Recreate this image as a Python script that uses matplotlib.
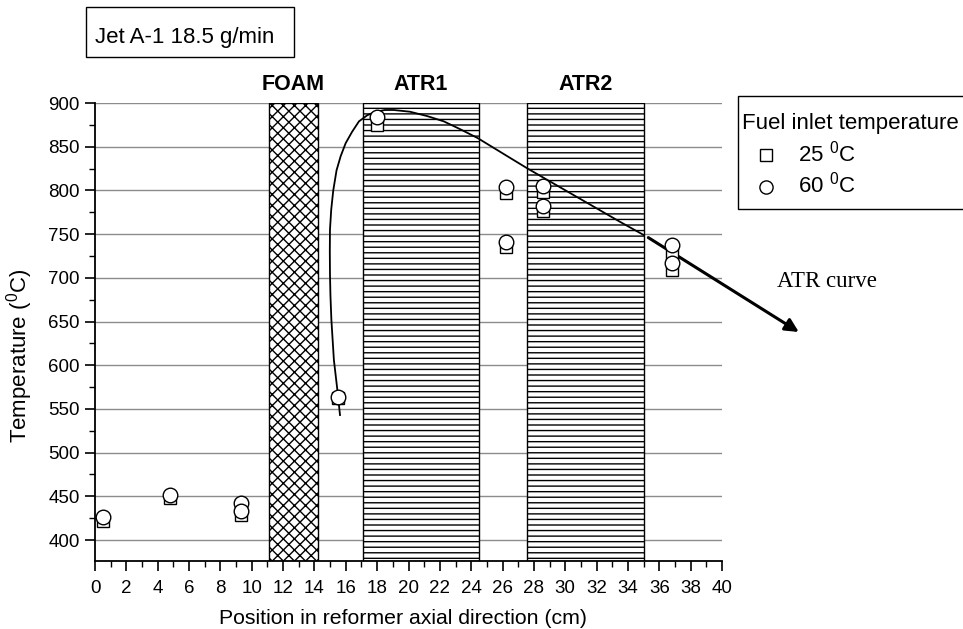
import matplotlib
matplotlib.use("Agg")
import matplotlib.pyplot as plt
from matplotlib.patches import Rectangle
from matplotlib.lines import Line2D
from matplotlib.ticker import MultipleLocator

plt.rcParams['font.family'] = ['Liberation Sans', 'DejaVu Sans']
plt.rcParams['mathtext.fontset'] = 'custom'
plt.rcParams['mathtext.rm'] = 'Liberation Sans'
plt.rcParams['mathtext.it'] = 'Liberation Sans'
plt.rcParams['hatch.linewidth'] = 1.0

# ---- data ----
positions = [0.5, 4.8, 9.3, 9.3, 15.5, 18.0, 26.2, 26.2, 28.6, 28.6, 36.8, 36.8]
temp_25C = [422, 448, 440, 429, 562, 875, 797, 735, 798, 777, 727, 709]
temp_60C = [426, 451, 442, 433, 564, 884, 804, 741, 805, 782, 738, 717]

curve_x = [15.63, 15.46, 15.24, 15.08, 15.02, 14.99, 14.98, 14.99, 15.07, 15.2,
           15.41, 15.67, 15.99, 16.4, 16.84, 17.37, 17.9, 18.5, 19.06, 20.1,
           21.2, 22.25, 23.3, 24.4, 26.5, 27.6, 30.5, 33.5, 35.0]
curve_y = [543, 572, 606, 652, 680, 705, 730, 755, 778, 800,
           823, 839, 854, 867, 879, 886, 890, 892, 892, 890,
           885, 879, 870, 860, 837, 825, 795, 764, 749]
arrow_start = (35.3, 746)
arrow_end = (44.9, 638)

zone_names = ['FOAM', 'ATR1', 'ATR2']
zone_start = [11.1, 17.1, 27.55]
zone_end = [14.2, 24.5, 35.0]
zone_hatch = ['xxx', '---', '---']

legend_title = 'Fuel inlet temperature'
legend_labels = ['25 $^{0}$C', '60 $^{0}$C']

xticks = list(range(0, 41, 2))
yticks = list(range(400, 901, 50))

W, H = 963, 629
fig = plt.figure(figsize=(W / 100, H / 100), dpi=100)
ax = fig.add_axes([95 / W, 1 - 561 / H, (722 - 95) / W, (561 - 103) / H])

ax.set_xlim(0, 40)
ax.set_ylim(376, 900)
ax.set_axisbelow(True)
ax.set_yticks(yticks)
ax.set_xticks(xticks)
ax.xaxis.set_minor_locator(MultipleLocator(1))
ax.yaxis.set_minor_locator(MultipleLocator(25))
ax.grid(True, axis='y', color='#8c8c8c', lw=1.0)

for sp in ['top', 'right']:
    ax.spines[sp].set_visible(False)
for sp in ['left', 'bottom']:
    ax.spines[sp].set_linewidth(1.3)

ax.tick_params(which='major', direction='out', length=7, width=1.2, labelsize=13.5, color='black')
ax.tick_params(which='minor', direction='out', length=4, width=1.0)
ax.tick_params(axis='x', which='major', pad=7)
ax.tick_params(axis='y', which='major', pad=4)

for name, s, e, h in zip(zone_names, zone_start, zone_end, zone_hatch):
    ax.axvspan(s, e, facecolor='white', edgecolor='black', hatch=h, lw=1.0, zorder=1)
    ax.annotate(name, xy=((s + e) / 2, 900), xytext=(0, 9.5), textcoords='offset points',
                ha='center', va='baseline', fontsize=15.5, fontweight='bold',
                annotation_clip=False)

ax.plot(curve_x, curve_y, color='black', lw=1.3, zorder=3, solid_joinstyle='round')
ax.annotate('', xy=arrow_end, xytext=arrow_start,
            arrowprops=dict(arrowstyle='-|>', lw=2.2, color='black', mutation_scale=20,
                            shrinkA=0, shrinkB=0),
            annotation_clip=False, zorder=4)
ax.text(43.5, 690, 'ATR curve', family=['Liberation Serif', 'DejaVu Serif'],
        fontsize=16.5, ha='left', va='baseline', clip_on=False)

ax.plot(positions, temp_25C, ls='none', marker='s', ms=9, mfc='white',
        mec='black', mew=1.0, zorder=5)
ax.plot(positions, temp_60C, ls='none', marker='o', ms=10.5, mfc='white',
        mec='black', mew=1.0, zorder=6)

ax.set_xlabel('Position in reformer axial direction (cm)', fontsize=15.3)
ax.set_ylabel('Temperature ($^{0}$C)', fontsize=16)
ax.xaxis.set_label_coords(0.492, -0.105)
ax.yaxis.set_label_coords(-0.096, 0.448)


def fx(px):
    return px / W


def fy(py):
    return 1 - py / H


# legend box (drawn in figure pixels, right edge runs off the image as in the reference)
fig.patches.append(Rectangle((fx(738), fy(209)), fx(990) - fx(738), (209 - 96) / H,
                             transform=fig.transFigure, facecolor='white',
                             edgecolor='black', lw=1.0, zorder=10))
fig.text(fx(742), fy(129), legend_title, fontsize=16, ha='left', va='baseline', zorder=11)
for i, (mk, ms, lab) in enumerate(zip(['s', 'o'], [8.5, 9.5], legend_labels)):
    yc = 155 + 31.5 * i
    fig.add_artist(Line2D([fx(765.5)], [fy(yc)], transform=fig.transFigure, ls='none',
                          marker=mk, ms=ms, mfc='white', mec='black', mew=1.0, zorder=11))
    fig.text(fx(798), fy(yc + 6.5), lab, fontsize=16, ha='left', va='baseline', zorder=11)

# header box
fig.patches.append(Rectangle((fx(86), fy(57)), (294 - 86) / W, 50 / H,
                             transform=fig.transFigure, facecolor='white',
                             edgecolor='black', lw=1.0))
fig.text(fx(95), fy(43), 'Jet A-1 18.5 g/min', fontsize=16, ha='left', va='baseline')

fig.savefig('out.png', dpi=100)
